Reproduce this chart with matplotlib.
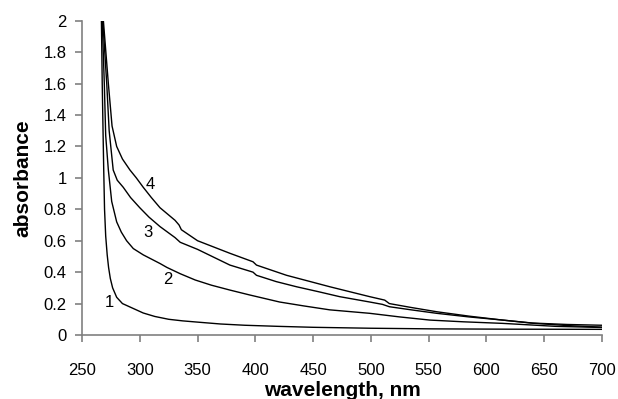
import matplotlib.pyplot as plt

plt.rcParams['font.family'] = ['Liberation Sans', 'DejaVu Sans']

# absorbance spectra (wavelength nm, absorbance)
wl1 = [266.8, 267.5, 268.2, 268.8, 269.5, 270.5, 271.8, 273, 274.5, 276.5, 280, 285, 294, 303, 313,
       325, 337, 350, 370, 391, 420, 450, 500, 554, 620, 700]
abs1 = [2.0, 1.6, 1.3, 1.05, 0.8, 0.63, 0.51, 0.43, 0.36, 0.30, 0.24, 0.20, 0.17, 0.14, 0.118,
        0.10, 0.09, 0.082, 0.07, 0.062, 0.055, 0.049, 0.043, 0.039, 0.037, 0.036]

wl2 = [267.5, 269.3, 270.5, 272.8, 275.7, 280, 284, 288.6, 294.4, 303, 317.5, 323.5, 335, 348, 362,
       378, 395, 421, 442, 464.5, 499, 525, 551, 580, 614, 660, 700]
abs2 = [2.0, 1.6, 1.27, 1.05, 0.85, 0.72, 0.655, 0.60, 0.55, 0.51, 0.455, 0.43, 0.39, 0.35, 0.317,
        0.286, 0.255, 0.21, 0.185, 0.16, 0.138, 0.115, 0.095, 0.084, 0.074, 0.055, 0.048]

wl3 = [268, 271.4, 273.5, 277, 280.5, 285.7, 292, 300, 308, 317.5, 330.5, 335, 350, 364, 378, 398,
       401, 418, 435.7, 455, 473, 499, 510, 516, 535, 557, 585, 614, 640, 670, 700]
abs3 = [2.0, 1.6, 1.3, 1.05, 0.985, 0.94, 0.875, 0.81, 0.75, 0.69, 0.62, 0.59, 0.545, 0.495, 0.445, 0.40,
        0.38, 0.34, 0.307, 0.275, 0.244, 0.21, 0.195, 0.18, 0.16, 0.138, 0.115, 0.095, 0.075, 0.06, 0.05]

wl4 = [268.5, 272.8, 276, 280, 285, 291.5, 297, 303, 310, 317.5, 324, 330.5, 334, 336, 350, 364, 378,
       398, 401, 427, 445, 464.5, 482, 499, 512, 516, 535, 557, 585, 614, 640, 670, 700]
abs4 = [2.0, 1.6, 1.33, 1.2, 1.12, 1.05, 1.0, 0.94, 0.875, 0.81, 0.77, 0.73, 0.70, 0.67, 0.60, 0.56, 0.52,
        0.466, 0.445, 0.38, 0.345, 0.307, 0.275, 0.244, 0.222, 0.20, 0.175, 0.148, 0.12, 0.095, 0.076, 0.067, 0.062]

curve_labels = ['1', '2', '3', '4']
label_x = [273.5, 324, 307, 309]
label_y = [0.21, 0.355, 0.655, 0.96]

fig = plt.figure(figsize=(6.18, 3.99), dpi=100)
ax = fig.add_axes([0.1327, 0.1604, 0.8413, 0.7876])

for wl, a in [(wl1, abs1), (wl2, abs2), (wl3, abs3), (wl4, abs4)]:
    ax.plot(wl, a, color='black', linewidth=1.0, solid_joinstyle='round')

for t, x, y in zip(curve_labels, label_x, label_y):
    ax.text(x, y, t, fontsize=12, ha='center', va='center')

ax.set_xlim(250, 700)
ax.set_ylim(0, 2)
ax.set_xticks(range(250, 701, 50))
ax.set_yticks([0, 0.2, 0.4, 0.6, 0.8, 1, 1.2, 1.4, 1.6, 1.8, 2])
ax.set_yticklabels(['0', '0.2', '0.4', '0.6', '0.8', '1', '1.2', '1.4', '1.6', '1.8', '2'])

ax.spines['top'].set_visible(False)
ax.spines['right'].set_visible(False)
for s in ['left', 'bottom']:
    ax.spines[s].set_color('#808080')
    ax.spines[s].set_linewidth(1.2)
ax.tick_params(direction='out', length=5, width=1.2, color='#808080', labelsize=12, pad=6)
ax.tick_params(axis='x', pad=15)

ax.set_xlabel('wavelength, nm', fontsize=15, fontweight='bold', labelpad=2)
ax.set_ylabel('absorbance', fontsize=15, fontweight='bold', labelpad=8)

fig.savefig('out.png', dpi=100)
